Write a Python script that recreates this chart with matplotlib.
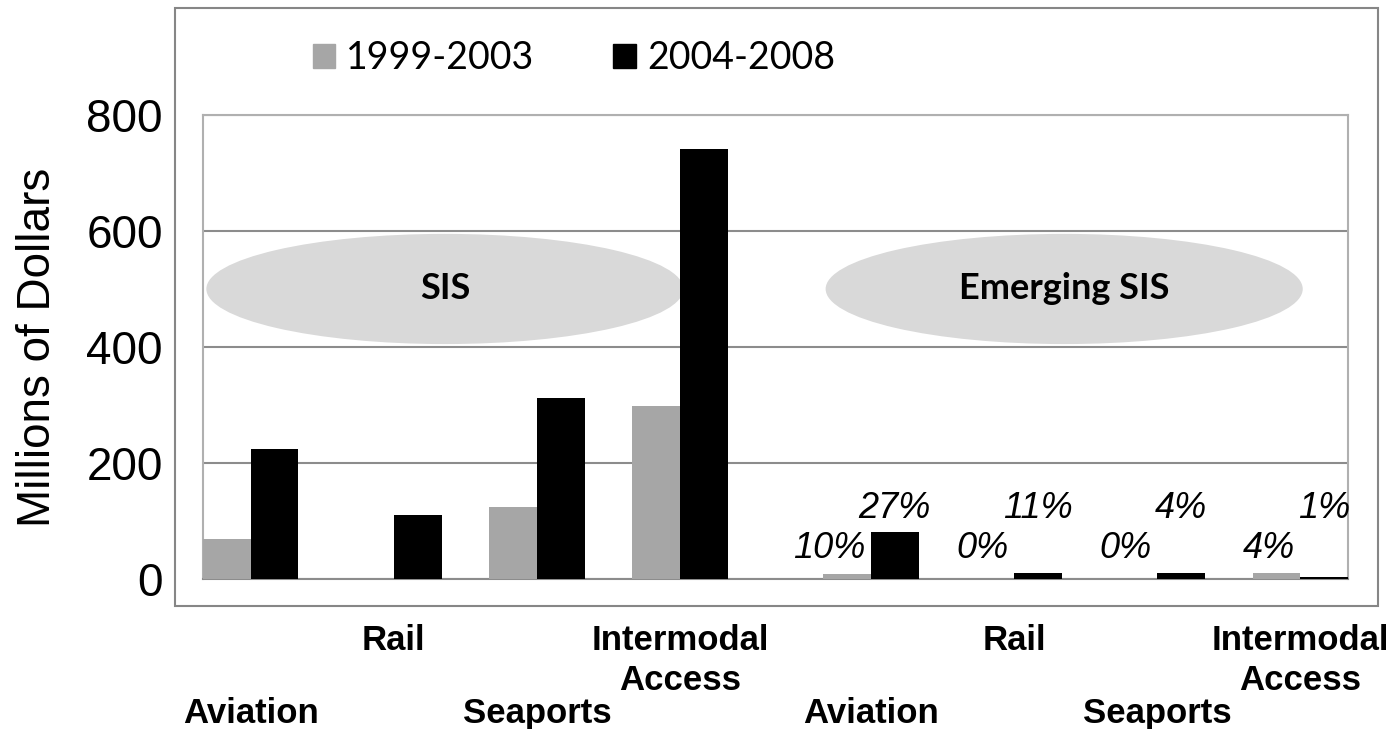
import numpy as np
import matplotlib
matplotlib.use('Agg')
import matplotlib.pyplot as plt
import matplotlib.patches as mpatches

categories = ['Aviation', 'Rail', 'Seaports', 'Intermodal\nAccess',
              'Aviation', 'Rail', 'Seaports', 'Intermodal\nAccess']
values_9903 = [69, 0, 124, 298, 8, 0, 0, 10]
values_0408 = [224, 110, 312, 741, 81, 10, 10, 4]
pct_9903 = ['10%', '0%', '0%', '4%']
pct_0408 = ['27%', '11%', '4%', '1%']
series_names = ['1999-2003', '2004-2008']
yticks = [0, 200, 400, 600, 800]

GRAY = '#a6a6a6'
ARIAL = 'Liberation Sans'

fig = plt.figure(figsize=(14, 7.29), dpi=100)
ax = fig.add_axes([0.145, 0.2058, 0.8179, 0.6365])

# outer chart frame
fig.patches.append(mpatches.Rectangle((0.125, 0.1687), 0.859, 0.8203, transform=fig.transFigure,
                                      fill=False, edgecolor='#868686', linewidth=1.5, zorder=0))

n = len(categories)
idx = np.arange(n)
start = idx * 3 + (idx >= 4)  # one extra bar-width between the two blocks
w = 1.0
ax.bar(start + w / 2, values_9903, width=w, color=GRAY, zorder=3)
ax.bar(start + 1.5 * w, values_0408, width=w, color='black', zorder=3)

# percentage labels on the emerging block
for k in range(4):
    i = k + 4
    ax.text(start[i] + w - 0.12, 52, pct_9903[k], ha='right', va='center',
            fontsize=26, style='italic', family=ARIAL, zorder=5)
    ax.text(start[i] + 1.5 * w, 121, pct_0408[k], ha='center', va='center',
            fontsize=26, style='italic', family=ARIAL, zorder=5)

# ellipses with group names
for cx, label in [(5.07, 'SIS'), (18.05, 'Emerging SIS')]:
    ax.add_patch(mpatches.Ellipse((cx, 500), 10, 190, facecolor='#d9d9d9', edgecolor='none', zorder=2))
    ax.text(cx, 500, label, ha='center', va='center', fontsize=26, fontweight='bold',
            family='Lato', zorder=4)

ax.set_xlim(0, 24)
ax.set_ylim(0, 800)
ax.set_yticks(yticks)
ax.set_yticklabels([str(t) for t in yticks], fontsize=33, family=ARIAL)
ax.tick_params(axis='y', length=0, pad=29)

# staggered category labels (two rows, like the original)
ax.set_xticks([])
trans = ax.get_xaxis_transform()
for i, c in enumerate(categories):
    ypos = -0.254 if i % 2 == 0 else -0.098
    ax.text(start[i] + w, ypos, c, transform=trans, ha='center', va='top', fontsize=25,
            fontweight='bold', family=ARIAL, linespacing=1.25, multialignment='center')

ax.set_ylabel('Millions of Dollars', fontsize=33, family=ARIAL)
ax.yaxis.set_label_coords(-0.125, 0.5)

ax.grid(axis='y', color='#8c8c8c', linewidth=1.5, zorder=1)
ax.set_axisbelow(True)
for s in ['left', 'top', 'right']:
    ax.spines[s].set_color('#b0b0b0')
    ax.spines[s].set_linewidth(1.5)
ax.spines['bottom'].set_color('#8c8c8c')
ax.spines['bottom'].set_linewidth(1.5)

handles = [mpatches.Patch(color=GRAY, label=series_names[0]),
           mpatches.Patch(color='black', label=series_names[1])]
fig.legend(handles=handles, loc='center', bbox_to_anchor=(0.41, 0.92), ncol=2, frameon=False,
           prop={'family': 'Lato', 'size': 27}, handlelength=0.6, handleheight=0.6,
           handletextpad=0.3, columnspacing=2.1)

fig.savefig('out.png', dpi=100)
